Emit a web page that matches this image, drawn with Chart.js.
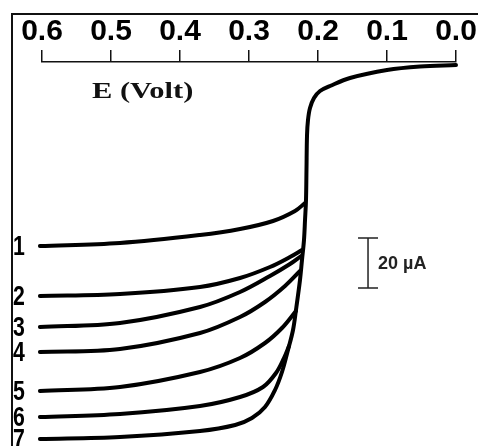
<!DOCTYPE html>
<html>
<head>
<meta charset="utf-8">
<script src="https://cdn.jsdelivr.net/npm/chart.js@4/dist/chart.umd.min.js"></script>
<style>
html,body{margin:0;padding:0;background:#fff;}
#wrap{position:relative;width:478px;height:446px;}
</style>
</head>
<body>
<div id="wrap"><canvas id="c" width="478" height="446"></canvas></div>
<script>
// Potential (V) and current (µA), one pair of arrays per curve
const curveLabels = ['1','2','3','4','5','6','7'];
const curve1E = [0.603,0.487,0.371,0.313,0.2652,0.2333,0.2188];
const curve1I = [80.0,81.2,84.4,86.8,90.0,94.0,97.2];
const curve2E = [0.603,0.487,0.371,0.313,0.2696,0.2406,0.2232];
const curve2I = [60.0,60.8,63.6,67.2,71.6,75.6,78.4];
const curve3E = [0.603,0.487,0.371,0.313,0.2696,0.2406,0.2246];
const curve3I = [47.6,49.2,55.6,61.6,68.0,72.8,76.0];
const curve4E = [0.603,0.487,0.371,0.313,0.2768,0.2478,0.2261];
const curve4I = [37.6,38.8,45.2,51.6,57.6,64.0,70.0];
const curve5E = [0.603,0.487,0.371,0.313,0.2768,0.2522,0.2319];
const curve5I = [22.0,23.6,29.6,35.2,41.2,47.2,54.0];
const curve6E = [0.603,0.487,0.371,0.313,0.2797,0.2609,0.2493,0.2420];
const curve6I = [11.6,12.8,16.0,19.6,23.6,29.2,35.2,40.0];
const curve7E = [0.603,0.487,0.371,0.320,0.2957,0.2768,0.2623,0.2522,0.2435,0.2362,0.2319,0.2261,0.2232,0.2203,0.2188,0.2174,0.2167,0.2159,0.2145,0.2116,0.2058,0.1971,0.1826,0.1536,0.1,0.0522,0.0];
const curve7I = [2.8,3.6,6.0,8.4,11.2,15.6,22.4,29.6,38.4,46.4,54.4,66.4,74.4,82.4,90.4,98.4,110.4,124.4,130.4,135.2,139.2,142.0,144.0,147.2,150.4,151.8,152.4];
const xTicks = [0.6,0.5,0.4,0.3,0.2,0.1,0.0];
const axisTitle = 'E (Volt)';
const scaleBarText = '20 µA';
const scaleBarE = 0.1275;
const scaleBarLow = 63.2;
const scaleBarSpan = 20;

const curvesE = [curve1E,curve2E,curve3E,curve4E,curve5E,curve6E,curve7E];
const curvesI = [curve1I,curve2I,curve3I,curve4I,curve5I,curve6I,curve7I];

const datasets = curvesE.map((es, k) => ({
  label: curveLabels[k],
  data: es.map((e, i) => ({x: e, y: curvesI[k][i]})),
  borderColor: '#000',
  borderWidth: 4,
  borderCapStyle: 'round',
  borderJoinStyle: 'round',
  pointRadius: 0,
  tension: 0.35,
  fill: false,
  clip: false
}));

const decor = {
  id: 'decor',
  afterDraw(chart) {
    const ctx = chart.ctx;
    const xs = chart.scales.x, ys = chart.scales.y;
    ctx.save();
    // frame (left and top)
    ctx.strokeStyle = '#111';
    ctx.lineWidth = 2;
    ctx.beginPath();
    ctx.moveTo(12, 446);
    ctx.lineTo(12, 14);
    ctx.lineTo(478, 14);
    ctx.stroke();
    // axis title
    ctx.fillStyle = '#111';
    ctx.font = 'bold 24px "Liberation Serif", "Times New Roman", serif';
    ctx.textBaseline = 'alphabetic';
    ctx.textAlign = 'left';
    ctx.save();
    ctx.translate(92, 98);
    ctx.scale(1.27, 1);
    ctx.fillText(axisTitle, 0, 0);
    ctx.restore();
    // curve labels
    ctx.fillStyle = '#000';
    ctx.font = 'bold 28px "Liberation Sans", Arial, sans-serif';
    ctx.textBaseline = 'middle';
    curvesI.forEach((arr, k) => {
      const py = ys.getPixelForValue(arr[0]);
      ctx.save();
      ctx.translate(13, py + 1);
      ctx.scale(0.76, 1);
      ctx.fillText(curveLabels[k], 0, 0);
      ctx.restore();
    });
    // scale bar
    const bx = xs.getPixelForValue(scaleBarE);
    const by1 = ys.getPixelForValue(scaleBarLow + scaleBarSpan);
    const by2 = ys.getPixelForValue(scaleBarLow);
    ctx.strokeStyle = '#222';
    ctx.lineWidth = 1.5;
    ctx.beginPath();
    ctx.moveTo(bx, by1); ctx.lineTo(bx, by2);
    ctx.moveTo(bx - 10, by1); ctx.lineTo(bx + 10, by1);
    ctx.moveTo(bx - 10, by2); ctx.lineTo(bx + 10, by2);
    ctx.stroke();
    ctx.fillStyle = '#222';
    ctx.font = 'bold 18px "Liberation Sans", Arial, sans-serif';
    ctx.textBaseline = 'middle';
    ctx.textAlign = 'left';
    ctx.fillText(scaleBarText, bx + 10, (by1 + by2) / 2 + 1);
    ctx.restore();
  }
};

new Chart(document.getElementById('c'), {
  type: 'line',
  data: { datasets },
  options: {
    responsive: false,
    animation: false,
    devicePixelRatio: 1,
    layout: { padding: { left: 42, right: 22, top: 14, bottom: 0 } },
    plugins: { legend: { display: false }, tooltip: { enabled: false } },
    scales: {
      x: {
        type: 'linear',
        position: 'top',
        reverse: true,
        min: 0,
        max: 0.6,
        afterBuildTicks(scale) { scale.ticks = xTicks.map(v => ({value: v})); },
        afterFit(scale) { scale.height = 48; },
        ticks: {
          color: '#000',
          padding: 0,
          autoSkip: false,
          maxRotation: 0,
          font: { family: '"Liberation Sans Narrow", "Liberation Sans", Arial, sans-serif', size: 30, weight: 'bold' },
          callback: v => Number(v).toFixed(1)
        },
        grid: { drawOnChartArea: false, drawTicks: true, tickLength: 12, color: '#111', lineWidth: 1.5 },
        border: { display: true, color: '#111', width: 1.5 }
      },
      y: {
        type: 'linear',
        display: false,
        min: 0,
        max: 153.6
      }
    }
  },
  plugins: [decor]
});
</script>
</body>
</html>
